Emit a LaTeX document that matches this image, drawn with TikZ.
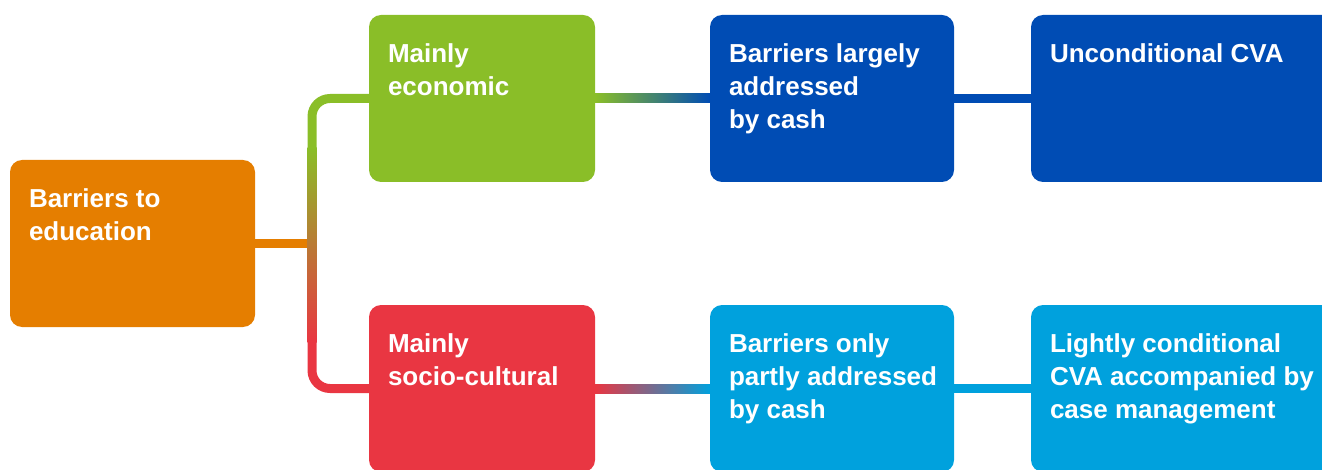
\documentclass[tikz,border=0pt]{standalone}
\usepackage{fontspec}
\setmainfont{Liberation Sans}
\usetikzlibrary{calc}
\definecolor{corange}{RGB}{229,126,0}
\definecolor{cgreen}{RGB}{138,190,40}
\definecolor{cred}{RGB}{233,54,66}
\definecolor{cdark}{RGB}{0,76,180}
\definecolor{clight}{RGB}{0,161,221}
\begin{document}
\begin{tikzpicture}[x=1pt,y=1pt,
	box/.style={rounded corners=12pt,minimum height=167pt,inner sep=0pt,draw=none},
	txt/.style={anchor=north west,xshift=19pt,yshift=-29pt,inner sep=0pt,align=left,text=white,
		font=\fontsize{26}{33}\selectfont\bfseries},
	arm/.style={line width=9pt,rounded corners=18pt}]
		\useasboundingbox (0,0) rectangle (1322,469);
		% boxes
		\node[box,fill=corange,minimum width=245pt,label={[txt]north west:{Barriers to\\education}}] (root) at (132.5,225.5) {};
		\node[box,fill=cgreen,minimum width=226pt,label={[txt]north west:{Mainly\\economic}}] (econ) at (482,370.5) {};
		\node[box,fill=cred,minimum width=226pt,label={[txt]north west:{Mainly\\socio-cultural}}] (socio) at (482,80.5) {};
		\node[box,fill=cdark,minimum width=244pt,label={[txt]north west:{Barriers largely\\addressed\\by cash}}] (largely) at (832,370.5) {};
		\node[box,fill=clight,minimum width=244pt,label={[txt]north west:{Barriers only\\partly addressed\\by cash}}] (partly) at (832,80.5) {};
		\node[box,fill=cdark,minimum width=320pt,label={[txt]north west:{Unconditional CVA}}] (uncond) at (1191,370.5) {};
		\node[box,fill=clight,minimum width=320pt,label={[txt]north west:{Lightly conditional\\CVA accompanied by\\case management}}] (light) at (1191,80.5) {};
		% fork
		\coordinate (fork) at ($(root.east)!0.5!(econ.west |- root.east)$);
		\draw[line width=9pt,corange] (root.east) -- (fork);
		\draw[arm,cgreen] (econ.west) -| ($(fork)+(0,93.5)$);
		\draw[arm,cred] (socio.west) -| ($(fork)+(0,-96.5)$);
		\shade[top color=cgreen,middle color=corange,bottom color=cred] ($(fork)+(-4.5,95.5)$) rectangle ($(fork)+(4.5,-98.5)$);
		% links
		\shade[left color=cgreen,right color=cdark] ($(econ.east)+(0,4.5)$) rectangle ($(largely.west)+(0,-4.5)$);
		\shade[left color=cred,right color=clight] ($(socio.east)+(0,4.5)$) rectangle ($(partly.west)+(0,-4.5)$);
		\draw[line width=9pt,cdark] (largely.east) -- (uncond.west);
		\draw[line width=9pt,clight] (partly.east) -- (light.west);
	\end{tikzpicture}
\end{document}
